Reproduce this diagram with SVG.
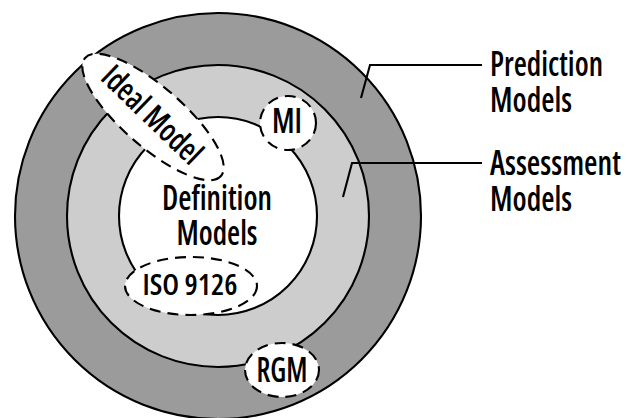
<svg xmlns="http://www.w3.org/2000/svg" width="627" height="418" viewBox="0 0 627 418">
  <style>
    .ring { stroke: #000; stroke-width: 2.1; }
    .tag { fill: #fff; stroke: #000; stroke-width: 2.1; stroke-dasharray: 11 7; }
    .lbl { font-family: "Open Sans", "Liberation Sans", Arial, sans-serif; font-weight: 600; font-stretch: 75%; fill: #000; }
    .lead { fill: none; stroke: #000; stroke-width: 2.1; }
  </style>
  <rect width="627" height="418" fill="#fff"/>

  <!-- concentric model rings -->
  <g id="prediction-ring">
    <circle class="ring" cx="218" cy="216" r="203" fill="#9b9b9b"/>
  </g>
  <g id="assessment-ring">
    <circle class="ring" cx="218" cy="216" r="151" fill="#cdcdcd"/>
  </g>
  <g id="definition-core">
    <circle class="ring" cx="218" cy="216" r="99" fill="#fff"/>
    <text class="lbl" x="217" y="210" font-size="34" text-anchor="middle" textLength="110" lengthAdjust="spacingAndGlyphs">Definition</text>
    <text class="lbl" x="217" y="245" font-size="34" text-anchor="middle" textLength="81" lengthAdjust="spacingAndGlyphs">Models</text>
  </g>

  <!-- example models -->
  <g id="ideal-model">
    <ellipse class="tag" cx="153" cy="117" rx="90" ry="30" transform="rotate(41 153 117)"/>
    <text class="lbl" x="-2" y="10" font-size="32" text-anchor="middle" textLength="126" lengthAdjust="spacingAndGlyphs" transform="translate(153 117) rotate(44)">Ideal Model</text>
  </g>
  <g id="mi">
    <ellipse class="tag" cx="288" cy="123" rx="28" ry="27"/>
    <text class="lbl" x="287" y="133" font-size="34" text-anchor="middle" textLength="30" lengthAdjust="spacingAndGlyphs">MI</text>
  </g>
  <g id="iso-9126">
    <ellipse class="tag" cx="191" cy="286" rx="66" ry="29"/>
    <text class="lbl" x="190" y="295" font-size="29" text-anchor="middle" textLength="95" lengthAdjust="spacingAndGlyphs">ISO 9126</text>
  </g>
  <g id="rgm">
    <ellipse class="tag" cx="282" cy="370" rx="37" ry="27"/>
    <text class="lbl" x="282" y="382" font-size="34" text-anchor="middle" textLength="51" lengthAdjust="spacingAndGlyphs">RGM</text>
  </g>

  <!-- leader lines to ring labels -->
  <g id="connectors">
    <polyline class="lead" points="361,98 370,65 482,65"/>
    <polyline class="lead" points="343,197 352,163 482,163"/>
  </g>

  <g id="prediction-label">
    <text class="lbl" x="490" y="76" font-size="34" textLength="113" lengthAdjust="spacingAndGlyphs">Prediction</text>
    <text class="lbl" x="490" y="112" font-size="34" textLength="82" lengthAdjust="spacingAndGlyphs">Models</text>
  </g>
  <g id="assessment-label">
    <text class="lbl" x="490" y="175" font-size="34" textLength="131" lengthAdjust="spacingAndGlyphs">Assessment</text>
    <text class="lbl" x="490" y="211" font-size="34" textLength="82" lengthAdjust="spacingAndGlyphs">Models</text>
  </g>
</svg>
